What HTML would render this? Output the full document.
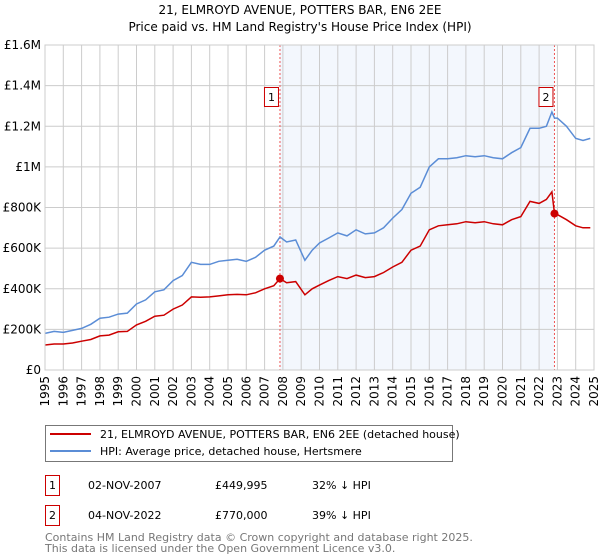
<!DOCTYPE html>
<html><head><meta charset="utf-8"><style>
body{margin:0;background:#fff;font-family:"DejaVu Sans","Liberation Sans",sans-serif;}
svg{display:block}
</style></head><body>
<svg width="600" height="560" xmlns="http://www.w3.org/2000/svg" font-family="DejaVu Sans, Liberation Sans, sans-serif">
<text x="300" y="14" font-size="12" text-anchor="middle">21, ELMROYD AVENUE, POTTERS BAR, EN6 2EE</text>
<text x="300" y="31" font-size="12" text-anchor="middle">Price paid vs. HM Land Registry's House Price Index (HPI)</text>
<g id="plot"></g>
<g>
<rect x="45.5" y="425.5" width="407" height="36" fill="#fff" stroke="#777"/>
<line x1="50" y1="434" x2="91" y2="434" stroke="#cc0000" stroke-width="2"/>
<text x="100" y="438" font-size="11">21, ELMROYD AVENUE, POTTERS BAR, EN6 2EE (detached house)</text>
<line x1="50" y1="451" x2="91" y2="451" stroke="#5b8dd6" stroke-width="2"/>
<text x="100" y="455" font-size="11">HPI: Average price, detached house, Hertsmere</text>
</g>
<g font-size="11">
<rect x="45.5" y="475.5" width="14" height="20" fill="#fff" stroke="#cc0000"/>
<text x="52.5" y="489" text-anchor="middle">1</text>
<text x="88" y="489">02-NOV-2007</text>
<text x="215" y="489">£449,995</text>
<text x="312" y="489">32% ↓ HPI</text>
<rect x="45.5" y="505.5" width="14" height="20" fill="#fff" stroke="#cc0000"/>
<text x="52.5" y="519" text-anchor="middle">2</text>
<text x="88" y="519">04-NOV-2022</text>
<text x="215" y="519">£770,000</text>
<text x="312" y="519">39% ↓ HPI</text>
</g>
<text x="45" y="541" font-size="11" fill="#777">Contains HM Land Registry data © Crown copyright and database right 2025.</text>
<text x="45" y="552" font-size="11" fill="#777">This data is licensed under the Open Government Licence v3.0.</text>
</svg>
<script>
const hpiYears=[1995,1995.5,1996,1996.5,1997,1997.5,1998,1998.5,1999,1999.5,2000,2000.5,2001,2001.5,2002,2002.5,2003,2003.5,2004,2004.5,2005,2005.5,2006,2006.5,2007,2007.5,2007.84,2008.2,2008.7,2009.2,2009.6,2010,2010.5,2011,2011.5,2012,2012.5,2013,2013.5,2014,2014.5,2015,2015.5,2016,2016.5,2017,2017.5,2018,2018.5,2019,2019.5,2020,2020.5,2021,2021.5,2022,2022.4,2022.7,2022.84,2023,2023.5,2024,2024.4,2024.8];
const hpiValues=[180000,190000,185000,195000,205000,225000,255000,260000,275000,280000,325000,345000,385000,395000,440000,465000,530000,520000,520000,535000,540000,545000,535000,555000,590000,610000,655000,630000,640000,540000,590000,625000,650000,675000,660000,690000,670000,675000,700000,748000,790000,870000,900000,1000000,1040000,1040000,1045000,1055000,1050000,1055000,1045000,1040000,1070000,1095000,1190000,1190000,1200000,1270000,1240000,1240000,1200000,1140000,1130000,1140000];
const propYears=[1995,1995.5,1996,1996.5,1997,1997.5,1998,1998.5,1999,1999.5,2000,2000.5,2001,2001.5,2002,2002.5,2003,2003.5,2004,2004.5,2005,2005.5,2006,2006.5,2007,2007.5,2007.84,2008.2,2008.7,2009.2,2009.6,2010,2010.5,2011,2011.5,2012,2012.5,2013,2013.5,2014,2014.5,2015,2015.5,2016,2016.5,2017,2017.5,2018,2018.5,2019,2019.5,2020,2020.5,2021,2021.5,2022,2022.4,2022.7,2022.84,2023,2023.5,2024,2024.4,2024.8];
const propValues=[123000,128000,128000,133000,142000,150000,168000,172000,188000,190000,222000,240000,265000,270000,300000,320000,360000,358000,360000,365000,370000,372000,370000,380000,400000,415000,450000,430000,435000,370000,400000,418000,440000,460000,450000,467000,455000,460000,480000,507000,530000,590000,610000,690000,710000,715000,720000,730000,725000,730000,720000,715000,740000,755000,830000,820000,840000,877000,770000,765000,740000,710000,700000,700000];
const yTicks=[0,200000,400000,600000,800000,1000000,1200000,1400000,1600000];
const yTickLabels=["£0","£200K","£400K","£600K","£800K","£1M","£1.2M","£1.4M","£1.6M"];
const xTicks=[1995,1996,1997,1998,1999,2000,2001,2002,2003,2004,2005,2006,2007,2008,2009,2010,2011,2012,2013,2014,2015,2016,2017,2018,2019,2020,2021,2022,2023,2024,2025];
const saleYears=[2007.84,2022.84];
const salePrices=[449995,770000];
const saleLabels=["1","2"];

const NS="http://www.w3.org/2000/svg";
const L=45,R=594,T=45,B=370,X0=1995,X1=2025,YMAX=1600000;
const xs=v=>L+(v-X0)/(X1-X0)*(R-L);
const ys=v=>B-v/YMAX*(B-T);
const g=document.getElementById('plot');
function mk(tag,attrs){const e=document.createElementNS(NS,tag);for(const k in attrs)e.setAttribute(k,attrs[k]);g.appendChild(e);return e;}
// shaded ownership region
let sh=mk('rect',{x:xs(saleYears[0]),y:T,width:xs(saleYears[1])-xs(saleYears[0]),height:B-T,fill:'#eef3fc',opacity:0.7});


yTicks.forEach((v,i)=>{
 let l=mk('line',{x1:L,x2:R,y1:ys(v),y2:ys(v),stroke:'#ccc','stroke-width':1});
 
 
 let t=mk('text',{x:L-4,y:ys(v)+4,'font-size':12,'text-anchor':'end'});
 t.textContent=yTickLabels[i];
 
 
});
xTicks.forEach(v=>{
 let l=mk('line',{x1:xs(v),x2:xs(v),y1:T,y2:B,stroke:'#ccc','stroke-width':1});
 
 
 let t=mk('text',{x:0,y:0,'font-size':12,'text-anchor':'end',transform:`translate(${xs(v)+4},${B+6}) rotate(-90)`});
 t.textContent=v;
 
 
});
saleYears.forEach((v,i)=>{
 let l=mk('line',{x1:xs(v),x2:xs(v),y1:T,y2:B,stroke:'#ee5555','stroke-width':1,'stroke-dasharray':'2,2'});
 
 
});
function path(xsArr,vals,color,name){
 const d=xsArr.map((x,i)=>(i?'L':'M')+xs(x).toFixed(1)+','+ys(vals[i]).toFixed(1)).join('');
 let p=mk('path',{d:d,fill:'none',stroke:color,'stroke-width':1.5});
 
 
}
path(hpiYears,hpiValues,'#5b8dd6','hpi-line');
path(propYears,propValues,'#cc0000','property-line');
saleYears.forEach((v,i)=>{
 let c=mk('circle',{cx:xs(v),cy:ys(salePrices[i]),r:4,fill:'#cc0000'});
 
 
 let b=mk('rect',{x:xs(v)-15.5,y:87.5,width:14,height:19,fill:'#fff',stroke:'#cc0000'});
 
 
 let t=mk('text',{x:xs(v)-8.5,y:101,'font-size':11,'text-anchor':'middle'});
 t.textContent=saleLabels[i];
 
 
});
let ax=mk('rect',{x:L,y:T,width:R-L,height:B-T,fill:'none',stroke:'#ccc'});


</script>
</body></html>
